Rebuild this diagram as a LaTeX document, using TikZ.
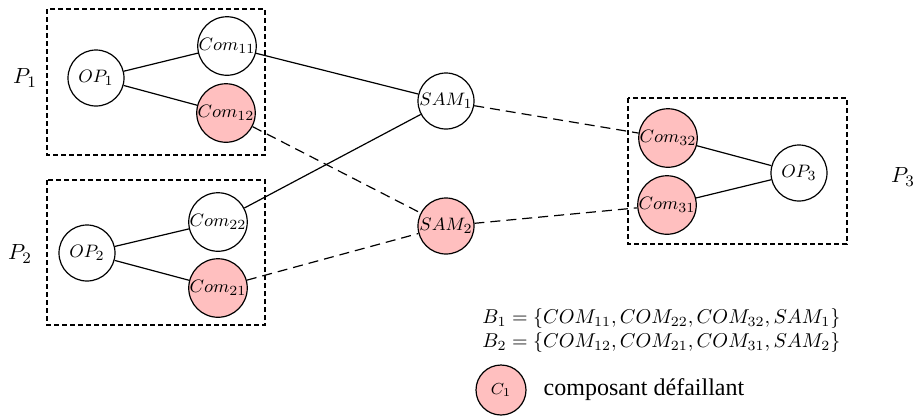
\documentclass[tikz,border=0pt]{standalone}
\usepackage[no-math]{fontspec}
\usepackage{amsmath}
\usepackage{tikz}
\usetikzlibrary{positioning}
\newfontfamily\legendfont{Liberation Serif}
\definecolor{FailRed}{RGB}{255, 191, 191}
\tikzset{
  comp/.style={circle, draw, line width=0.6pt, minimum size=28pt, inner sep=0pt,
    font=\fontsize{9.5}{11}\selectfont},
  fail/.style={comp, fill=FailRed},
  link/.style={line width=0.6pt},
  faillink/.style={link, dash pattern=on 5pt off 3pt},
  groupbox/.style={line width=0.6pt, dash pattern=on 2.5pt off 1.5pt},
  plabel/.style={font=\fontsize{11}{13}\selectfont},
}

\begin{document}
\begin{tikzpicture}[x=0.5pt, y=-0.5pt]
  \useasboundingbox (0,0) rectangle (915,419);

  \draw[groupbox] (47,9) rectangle (265,155);
  \draw[groupbox] (47,180) rectangle (265,325);
  \draw[groupbox] (628,98) rectangle (847,244);

  \node[plabel] (p1) at (25,78) {$P_1$};
  \node[plabel] (p2) at (20,254) {$P_2$};
  \node[plabel] (p3) at (903,177) {$P_3$};

  \node[comp] (op1) at (96,78) {$OP_1$};
  \node[comp] (com11) at (227,46) {$Com_{11}$};
  \node[fail] (com12) at (226,113) {$Com_{12}$};

  \node[comp] (op2) at (87,253) {$OP_2$};
  \node[comp] (com22) at (218,222) {$Com_{22}$};
  \node[fail] (com21) at (218,288) {$Com_{21}$};

  \node[comp] (sam1) at (446,101) {$SAM_1$};
  \node[fail] (sam2) at (446,226) {$SAM_2$};

  \node[fail] (com32) at (668,138) {$Com_{32}$};
  \node[fail] (com31) at (667,205) {$Com_{31}$};
  \node[comp] (op3) at (799,173) {$OP_3$};

  \draw[link] (op1) -- (com11);
  \draw[link] (op1) -- (com12);
  \draw[link] (op2) -- (com22);
  \draw[link] (op2) -- (com21);
  \draw[link] (com11) -- (sam1);
  \draw[link] (com22) -- (sam1);
  \draw[faillink] (com12) -- (sam2);
  \draw[faillink] (com21) -- (sam2);
  \draw[faillink] (sam1) -- (com32);
  \draw[faillink] (sam2) -- (com31);
  \draw[link] (com32) -- (op3);
  \draw[link] (com31) -- (op3);

  \node[anchor=west, inner sep=0pt, font=\fontsize{10}{12}\selectfont] (b1) at (482,318)
    {$B_1=\{COM_{11},COM_{22},COM_{32},SAM_1\}$};
  \node[anchor=west, inner sep=0pt, font=\fontsize{10}{12}\selectfont] (b2) at (482,342)
    {$B_2=\{COM_{12},COM_{21},COM_{31},SAM_2\}$};

  \node[fail, minimum size=25pt, font=\fontsize{8.5}{10}\selectfont] (legend) at (501,390) {$C_1$};
  \node[right=5pt of legend, font=\legendfont\fontsize{12}{14}\selectfont] (legtext) {composant défaillant};
\end{tikzpicture}
\end{document}
